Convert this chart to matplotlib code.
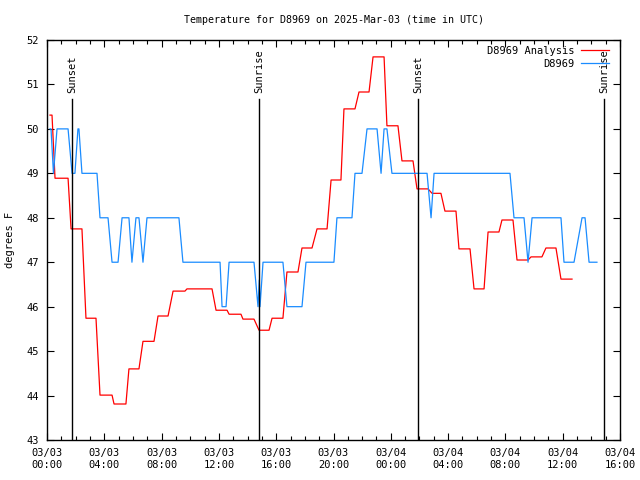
import matplotlib
matplotlib.use("Agg")
import matplotlib.pyplot as plt
from matplotlib.ticker import MultipleLocator, FixedLocator

# Hours since 03/03 00:00 UTC
analysis_t = [0.21, 0.35, 0.56, 1.47, 1.68, 2.44, 2.72, 3.42, 3.70, 4.54, 4.68, 5.51,
              5.72, 6.42, 6.70, 7.47, 7.75, 8.45, 8.80, 9.63, 9.77, 11.52, 11.80, 12.57,
              12.71, 13.54, 13.68, 14.45, 14.80, 15.50, 15.71, 16.47, 16.75, 17.52, 17.80,
              18.50, 18.85, 19.55, 19.83, 20.52, 20.73, 21.50, 21.78, 22.48, 22.76, 23.53,
              23.73, 24.50, 24.78, 25.55, 25.83, 26.60, 26.88, 27.50, 27.78, 28.55, 28.76,
              29.53, 29.81, 30.51, 30.79, 31.55, 31.76, 32.53, 32.81, 33.58, 33.79, 34.55,
              34.83, 35.53, 35.88, 36.65]
analysis_v = [50.31, 50.31, 48.89, 48.89, 47.75, 47.75, 45.74, 45.74, 44.01, 44.01, 43.81, 43.81,
              44.60, 44.60, 45.22, 45.22, 45.79, 45.79, 46.35, 46.35, 46.40, 46.40, 45.92, 45.92,
              45.83, 45.83, 45.72, 45.72, 45.47, 45.47, 45.74, 45.74, 46.78, 46.78, 47.32,
              47.32, 47.75, 47.75, 48.85, 48.85, 50.45, 50.45, 50.83, 50.83, 51.62, 51.62,
              50.07, 50.07, 49.28, 49.28, 48.65, 48.65, 48.55, 48.55, 48.15, 48.15, 47.30,
              47.30, 46.40, 46.40, 47.68, 47.68, 47.95, 47.95, 47.05, 47.05, 47.12, 47.12,
              47.32, 47.32, 46.62, 46.62]

obs_t = [0.21, 0.28, 0.45, 0.70, 1.47, 1.75, 1.95, 2.16, 2.23, 2.44, 3.49, 3.70, 4.26, 4.54,
         4.96, 5.24, 5.72, 5.93, 6.21, 6.42, 6.70, 6.98, 9.21, 9.49, 12.08, 12.22, 12.50,
         12.71, 14.45, 14.73, 14.82, 14.87, 15.08, 16.47, 16.75, 17.80, 18.08, 20.03, 20.24,
         21.29, 21.50, 21.99, 22.34, 23.04, 23.32, 23.53, 23.73, 24.08, 26.53, 26.81, 27.02,
         32.32, 32.60, 33.30, 33.58, 33.86, 35.88, 36.09, 36.79, 37.35, 37.56, 37.84, 38.39]
obs_v = [50, 50, 49, 50, 50, 49, 49, 50, 50, 49, 49, 48, 48, 47,
         47, 48, 48, 47, 48, 48, 47, 48, 48, 47, 47, 46, 46,
         47, 47, 46, 46.6, 46, 47, 47, 46, 46, 47, 47, 48,
         48, 49, 49, 50, 50, 49, 50, 50, 49, 49, 48, 49,
         49, 48, 48, 47, 48, 48, 47, 47, 48, 48, 47, 47]

sun_events = [1.77, 14.82, 25.92, 38.88]
sun_labels = ["Sunset", "Sunrise", "Sunset", "Sunrise"]

tick_hours = [0, 4, 8, 12, 16, 20, 24, 28, 32, 36, 40]
tick_labels = ["03/03\n00:00", "03/03\n04:00", "03/03\n08:00", "03/03\n12:00",
               "03/03\n16:00", "03/03\n20:00", "03/04\n00:00", "03/04\n04:00",
               "03/04\n08:00", "03/04\n12:00", "03/04\n16:00"]

plt.rcParams['font.family'] = ['DejaVu Sans Mono']
fig = plt.figure(figsize=(6.4, 4.8), dpi=100)
ax = fig.add_axes([47/640, 40/480, 573/640, 400/480])

ax.plot(analysis_t, analysis_v, color='#ff0000', lw=0.9, label='D8969 Analysis')
ax.plot(obs_t, obs_v, color='#1a8cff', lw=0.9, label='D8969')

ax.set_xlim(0, 40)
ax.set_ylim(43, 52)

for t, lab in zip(sun_events, sun_labels):
    ax.axvline(t, ymin=0, ymax=0.8525, color='black', lw=1.0)
    ax.text(t, 0.8675, lab, transform=ax.get_xaxis_transform(), rotation=90,
            ha='center', va='bottom', fontsize=7.5)

ax.xaxis.set_major_locator(FixedLocator(tick_hours))
ax.set_xticklabels(tick_labels, fontsize=7.5)
ax.xaxis.set_minor_locator(MultipleLocator(1))
ax.yaxis.set_major_locator(MultipleLocator(1))
ax.tick_params(axis='both', which='both', direction='in', top=True, right=True)
ax.tick_params(axis='both', which='major', length=5, width=0.8, labelsize=7.5)
ax.tick_params(axis='x', which='minor', length=3, width=0.8)
ax.tick_params(axis='x', which='major', pad=6)
ax.tick_params(axis='y', which='major', pad=6)
for s in ax.spines.values():
    s.set_linewidth(1.0)

ax.set_title('Temperature for D8969 on 2025-Mar-03 (time in UTC)', fontsize=7.2, pad=12)
ax.set_ylabel('degrees F', fontsize=7.5)
ax.yaxis.set_label_coords(-0.0558, 0.5)

leg = ax.legend(loc='upper right', bbox_to_anchor=(0.985, 0.99), frameon=False,
                markerfirst=False, fontsize=7.5, handlelength=2.7, handletextpad=0.6,
                labelspacing=0.25, borderaxespad=0, borderpad=0.2)
for txt in leg.get_texts():
    txt.set_ha('right')

fig.savefig('out.png', dpi=100)
